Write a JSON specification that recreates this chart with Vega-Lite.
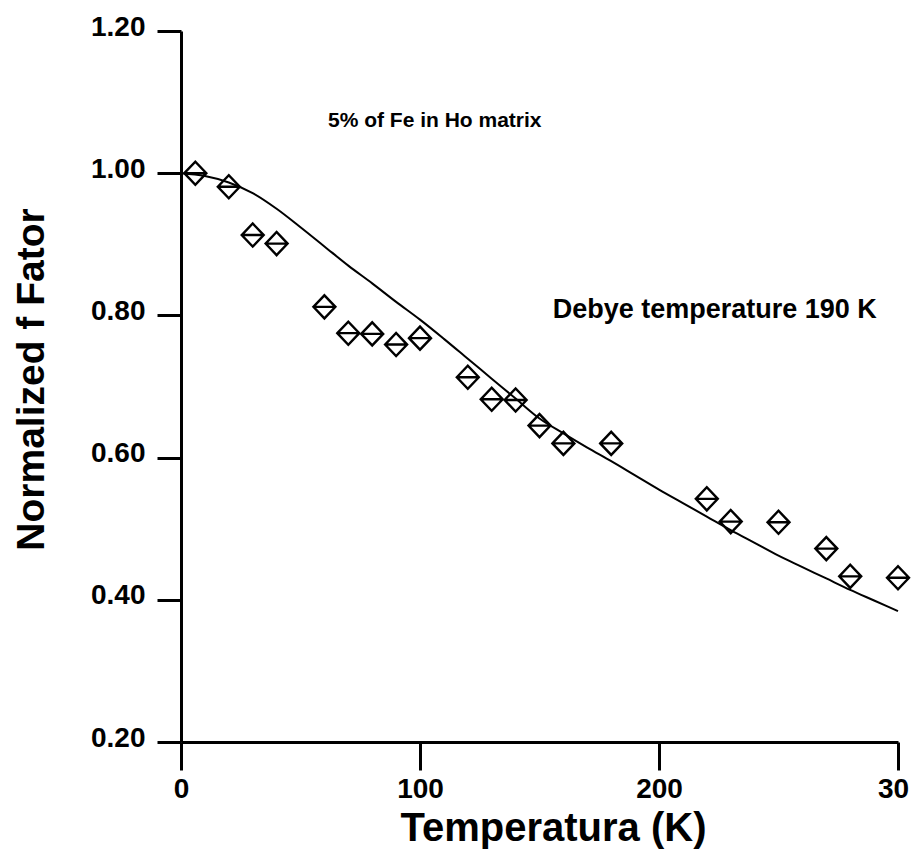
{
  "$schema": "https://vega.github.io/schema/vega-lite/v6.json",
  "width": 717,
  "height": 711,
  "autosize": {"type": "none"},
  "padding": {"left": 181, "top": 31, "right": 14, "bottom": 113},
  "background": "white",
  "config": {"view": {"stroke": null}, "font": "Liberation Sans"},
  "datasets": {
    "curve": [
      {"T": 0, "f": 1.000}, {"T": 10, "f": 0.996}, {"T": 20, "f": 0.987}, {"T": 30, "f": 0.972},
      {"T": 40, "f": 0.950}, {"T": 50, "f": 0.924}, {"T": 60, "f": 0.897}, {"T": 70, "f": 0.870},
      {"T": 80, "f": 0.845}, {"T": 90, "f": 0.819}, {"T": 100, "f": 0.794}, {"T": 110, "f": 0.767},
      {"T": 120, "f": 0.739}, {"T": 130, "f": 0.711}, {"T": 140, "f": 0.683}, {"T": 150, "f": 0.655},
      {"T": 160, "f": 0.634}, {"T": 170, "f": 0.614}, {"T": 180, "f": 0.595}, {"T": 190, "f": 0.575},
      {"T": 200, "f": 0.555}, {"T": 210, "f": 0.536}, {"T": 220, "f": 0.517}, {"T": 230, "f": 0.498},
      {"T": 240, "f": 0.480}, {"T": 250, "f": 0.462}, {"T": 260, "f": 0.446}, {"T": 270, "f": 0.430},
      {"T": 280, "f": 0.414}, {"T": 290, "f": 0.399}, {"T": 300, "f": 0.384}
    ],
    "points": [
      {"T": 6, "f": 1.000}, {"T": 20, "f": 0.981}, {"T": 30, "f": 0.913}, {"T": 40, "f": 0.901},
      {"T": 60, "f": 0.812}, {"T": 70, "f": 0.775}, {"T": 80, "f": 0.774}, {"T": 90, "f": 0.759},
      {"T": 100, "f": 0.768}, {"T": 120, "f": 0.713}, {"T": 130, "f": 0.682}, {"T": 140, "f": 0.681},
      {"T": 150, "f": 0.645}, {"T": 160, "f": 0.620}, {"T": 180, "f": 0.620}, {"T": 220, "f": 0.542},
      {"T": 230, "f": 0.510}, {"T": 250, "f": 0.509}, {"T": 270, "f": 0.472}, {"T": 280, "f": 0.433},
      {"T": 300, "f": 0.431}
    ]
  },
  "layer": [
    {
      "data": {"name": "curve"},
      "mark": {"type": "line", "color": "black", "strokeWidth": 2, "interpolate": "monotone"},
      "encoding": {
        "x": {
          "field": "T", "type": "quantitative",
          "scale": {"domain": [0, 300], "nice": false, "zero": false},
          "axis": {
            "title": "Temperatura (K)", "values": [0, 100, 200, 300],
            "labelExpr": "datum.value == 300 ? '30' : datum.label",
            "labelOffset": {"condition": {"test": "datum.value == 300", "value": -5}, "value": 0},
            "grid": false, "domainColor": "black", "domainWidth": 3,
            "tickColor": "black", "tickWidth": 3, "tickSize": 28,
            "labelFont": "Liberation Sans", "labelFontWeight": "bold", "labelFontSize": 28,
            "labelColor": "black", "labelPadding": 5, "labelFlush": false, "labelOverlap": false,
            "titleFont": "Liberation Sans", "titleFontWeight": "bold", "titleFontSize": 40,
            "titleColor": "black", "titleX": 372, "titleY": 98, "titleAlign": "center",
            "titleBaseline": "alphabetic"
          }
        },
        "y": {
          "field": "f", "type": "quantitative",
          "scale": {"domain": [0.2, 1.2], "nice": false, "zero": false},
          "axis": {
            "title": "Normalized f Fator", "values": [0.2, 0.4, 0.6, 0.8, 1.0, 1.2], "format": ".2f",
            "grid": false, "domainColor": "black", "domainWidth": 3,
            "tickColor": "black", "tickWidth": 3, "tickSize": 24,
            "labelFont": "Liberation Sans", "labelFontWeight": "bold", "labelFontSize": 28,
            "labelColor": "black", "labelPadding": 12, "labelBaseline": "alphabetic", "labelOffset": 4,
            "labelOverlap": false, "labelFlush": false,
            "titleFont": "Liberation Sans", "titleFontWeight": "bold", "titleFontSize": 39,
            "titleColor": "black", "titleAngle": -90, "titleX": -150, "titleY": 348,
            "titleAlign": "center", "titleBaseline": "middle"
          }
        }
      }
    },
    {
      "data": {"name": "points"},
      "mark": {"type": "point", "shape": "M-1,0L0,-1.05L1,0L0,1.05Z M-1,0L1,0", "size": 484, "filled": false, "color": "black", "strokeWidth": 2.4, "opacity": 1},
      "encoding": {
        "x": {"field": "T", "type": "quantitative"},
        "y": {"field": "f", "type": "quantitative"}
      }
    },
    {
      "data": {"values": [{}]},
      "mark": {"type": "text", "align": "left", "baseline": "alphabetic", "font": "Liberation Sans", "fontWeight": "bold", "fontSize": 21, "color": "black"},
      "encoding": {
        "x": {"datum": 61.5, "type": "quantitative"},
        "y": {"datum": 1.065, "type": "quantitative"},
        "text": {"value": "5% of Fe in Ho matrix"}
      }
    },
    {
      "data": {"values": [{}]},
      "mark": {"type": "text", "align": "left", "baseline": "alphabetic", "font": "Liberation Sans", "fontWeight": "bold", "fontSize": 27, "color": "black"},
      "encoding": {
        "x": {"datum": 155.5, "type": "quantitative"},
        "y": {"datum": 0.796, "type": "quantitative"},
        "text": {"value": "Debye temperature 190 K"}
      }
    }
  ]
}
